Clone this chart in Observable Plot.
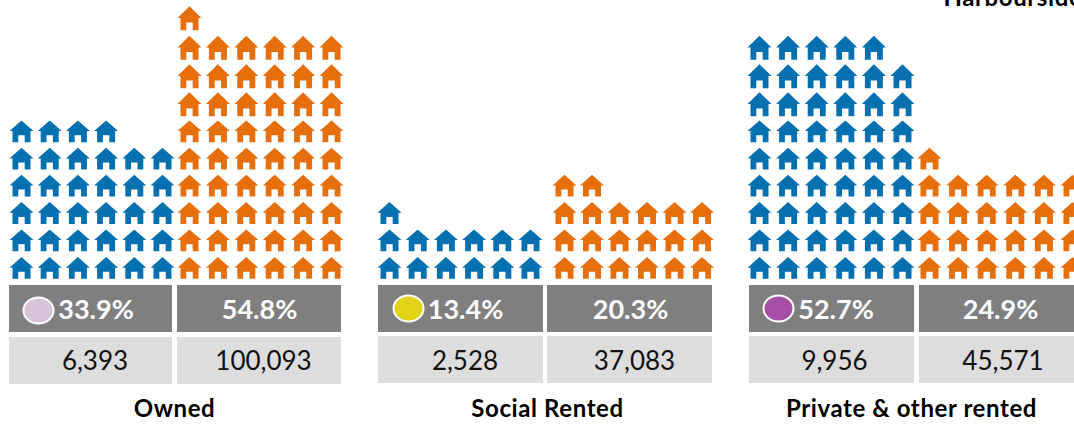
<!DOCTYPE html>
<html><head><meta charset="utf-8">
<style>html,body{margin:0;padding:0;background:#fff;overflow:hidden}svg{display:block}.cat{letter-spacing:.6px}</style>
<script src="https://cdn.jsdelivr.net/npm/d3@7"></script>
<script src="https://cdn.jsdelivr.net/npm/@observablehq/plot@0.6"></script>
</head><body><div id="chart"></div>
<script>
// Data
const categories = ["Owned", "Social Rented", "Private & other rented"];
const leftPct = ["33.9%", "13.4%", "52.7%"];
const rightPct = ["54.8%", "20.3%", "24.9%"];
const leftCount = ["6,393", "2,528", "9,956"];
const rightCount = ["100,093", "37,083", "45,571"];
const leftHouses = [34, 13, 53];
const rightHouses = [55, 20, 25];
const keyColors = ["#D9C3D8", "#E3D318", "#A64FA6"];
const clippedTitle = "Harbourside";

// Layout
const W = 1074, H = 426, FONT = "Lato, sans-serif";
const BLUE = "#0570B0", ORANGE = "#E66F0C", DARK = "#7F7F7F", LIGHT = "#DDDDDD";
const panels = [
  {l0:21, lp:28.2, r0:189, rp:28.4, t:[9,172,177,341], lightTop:337, lt:95.5, rt:259, lc:94.5, rc:263, key:[38,310], cat:174},
  {l0:389, lp:28.2, r0:564, rp:27.5, t:[378,543,547,712], lightTop:336, lt:465, rt:630, lc:464.5, rc:634, key:[408,308], cat:547},
  {l0:759, lp:28.6, r0:929, rp:28.6, t:[749,914,919,1080], lightTop:336, lt:835.5, rt:1000, lc:834, rc:1002.5, key:[778,308], cat:911}
];
const rowCentres = [267.4, 239.8, 212.5, 185.1, 158.1, 130.8, 103.8, 75.8, 47.3, 17.8];
const PER_ROW = 6, SQUAT_ROWS = 6;

const house = h => ({draw(c) {
  const t = -h / 2, e = t + h * 0.49, d = t + h * 0.68, b = h / 2;
  c.moveTo(0,t); c.lineTo(12,e); c.lineTo(9,e); c.lineTo(9,b); c.lineTo(3.2,b);
  c.lineTo(3.2,d); c.lineTo(-3.2,d); c.lineTo(-3.2,b); c.lineTo(-9,b); c.lineTo(-9,e);
  c.lineTo(-12,e); c.closePath();
}});
const ellipse = {draw(c) {
  const a = 15, b = 13, k = 0.5523;
  c.moveTo(a,0);
  c.bezierCurveTo(a,k*b,k*a,b,0,b); c.bezierCurveTo(-k*a,b,-a,k*b,-a,0);
  c.bezierCurveTo(-a,-k*b,-k*a,-b,0,-b); c.bezierCurveTo(k*a,-b,a,-k*b,a,0); c.closePath();
}};

const cells = (counts, origin, pitch) => counts.flatMap((n, p) => d3.range(n).map(i => ({
  x: panels[p][origin] + (i % PER_ROW) * panels[p][pitch],
  y: rowCentres[Math.floor(i / PER_ROW)],
  row: Math.floor(i / PER_ROW)
})));
const squat = d => d.row < SQUAT_ROWS, tall = d => d.row >= SQUAT_ROWS;
const houseMarks = (data, fill) => [
  Plot.dot(data.filter(squat), {x:"x", y:"y", symbol:house(21.8), fill, stroke:null}),
  Plot.dot(data.filter(tall), {x:"x", y:"y", symbol:house(24), fill, stroke:null})
];

const tiles = panels.flatMap(p => [
  {x1:p.t[0], x2:p.t[1], y1:285, y2:332, f:DARK},
  {x1:p.t[2], x2:p.t[3], y1:285, y2:332, f:DARK},
  {x1:p.t[0], x2:p.t[1], y1:p.lightTop, y2:p.lightTop + 47, f:LIGHT},
  {x1:p.t[2], x2:p.t[3], y1:p.lightTop, y2:p.lightTop + 47, f:LIGHT}
]);

const chart = Plot.plot({
  width: W, height: H, margin: 0,
  style: {background: "#fff", fontFamily: FONT},
  x: {domain: [0, W], range: [0, W], axis: null},
  y: {domain: [0, H], range: [0, H], axis: null},
  marks: [
    Plot.rect(tiles, {x1:"x1", x2:"x2", y1:"y1", y2:"y2", fill:"f"}),
    ...houseMarks(cells(leftHouses, "l0", "lp"), BLUE),
    ...houseMarks(cells(rightHouses, "r0", "rp"), ORANGE),
    Plot.dot(panels, {x:p=>p.key[0], y:p=>p.key[1], symbol:ellipse, fill:(p,i)=>keyColors[i], stroke:"#fff", strokeWidth:2}),
    Plot.text(leftPct, {x:(d,i)=>panels[i].lt, y:310, text:d=>d, fill:"#fff", fontWeight:700, fontSize:27, fontFamily:FONT}),
    Plot.text(rightPct, {x:(d,i)=>panels[i].rt, y:310, text:d=>d, fill:"#fff", fontWeight:700, fontSize:27, fontFamily:FONT}),
    Plot.text(leftCount, {x:(d,i)=>panels[i].lc, y:361, text:d=>d, fill:"#111", fontSize:26, fontFamily:FONT}),
    Plot.text(rightCount, {x:(d,i)=>panels[i].rc, y:361, text:d=>d, fill:"#111", fontSize:26, fontFamily:FONT}),
    Plot.text(categories, {x:(d,i)=>panels[i].cat, y:409, text:d=>d, fill:"#000", fontWeight:700, fontSize:24, fontFamily:FONT, className:"cat"}),
    Plot.text([clippedTitle], {x:943, y:5, text:d=>d, textAnchor:"start", lineAnchor:"bottom", fill:"#000", fontWeight:700, fontSize:24, fontFamily:FONT, className:"cat"})
  ]
});
document.getElementById("chart").append(chart);
</script></body></html>
